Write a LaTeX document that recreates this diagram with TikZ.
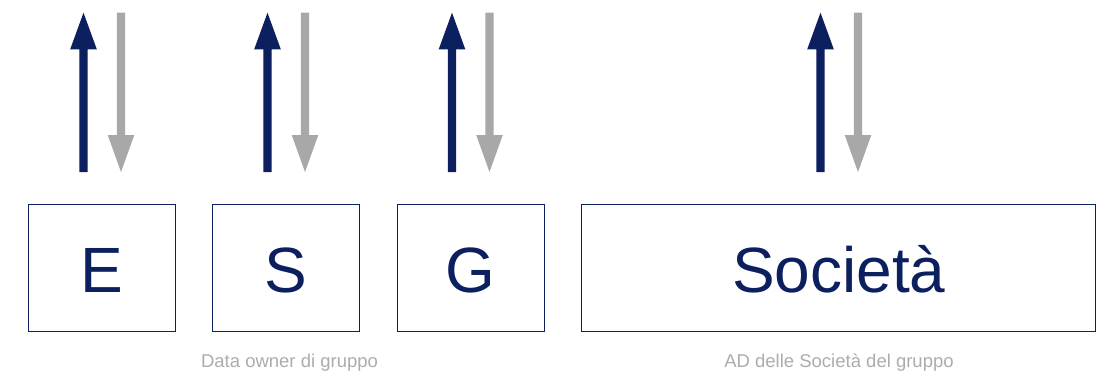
\documentclass[tikz,border=0pt]{standalone}
\usepackage{fontspec}
\setmainfont{Liberation Sans}
\definecolor{navy}{RGB}{12,31,94}
\definecolor{agrey}{RGB}{168,168,168}
\definecolor{tgrey}{RGB}{172,172,172}
\begin{document}
\begin{tikzpicture}[x=1pt,y=-1pt,
  box/.style={draw=navy,line width=1.3pt,minimum height=127.4pt,inner sep=0pt,
    text height=49pt,text depth=0pt,
    text=navy,font=\fontsize{64}{64}\selectfont},
  lbl/.style={text=tgrey,font=\fontsize{18.5}{20}\selectfont,inner sep=0pt,anchor=base},
  uparr/.pic={\fill[navy] (0,12.7)--(13.3,49.3)--(4.2,49.3)--(4.2,172)--(-4.2,172)--(-4.2,49.3)--(-13.3,49.3)--cycle;},
  downarr/.pic={\fill[agrey] (0,172)--(13.3,135)--(4.2,135)--(4.2,12.7)--(-4.2,12.7)--(-4.2,135)--(-13.3,135)--cycle;}
]
\useasboundingbox (0,0) rectangle (1097,372);
\node[box,minimum width=147pt] (E) at (101.8,268) {E};
\node[box,minimum width=147pt] (S) at (286.3,268) {S};
\node[box,minimum width=147pt] (G) at (470.8,268) {G};
\node[box,minimum width=514pt] (Soc) at (838.8,268) {Società};
\pic at (83.5,0) {uparr};
\pic at (121,0) {downarr};
\pic at (267.5,0) {uparr};
\pic at (305,0) {downarr};
\pic at (452,0) {uparr};
\pic at (489.5,0) {downarr};
\pic at (820.5,0) {uparr};
\pic at (858,0) {downarr};
\node[lbl] (l1) at (289.5,367) {Data owner di gruppo};
\node[lbl] (l2) at (839,367) {AD delle Società del gruppo};
\end{tikzpicture}
\end{document}
